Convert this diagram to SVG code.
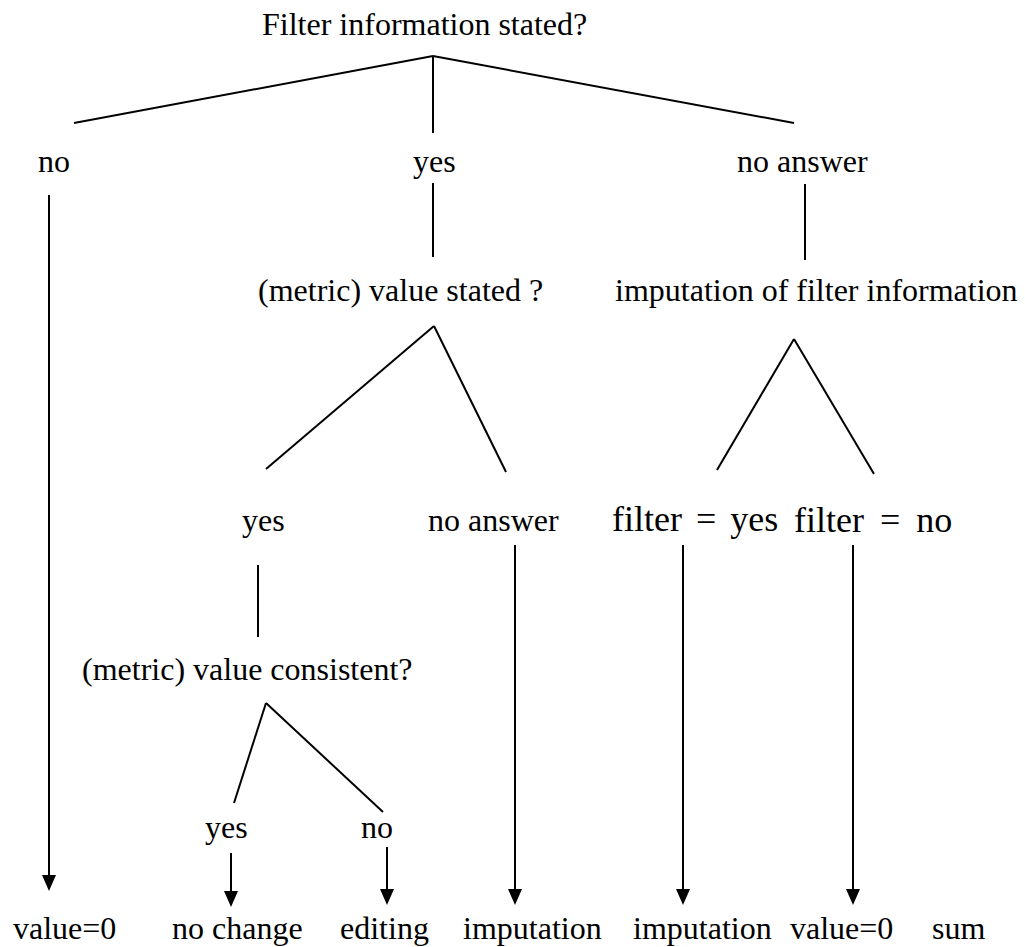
<svg xmlns="http://www.w3.org/2000/svg" width="1025" height="947" viewBox="0 0 1025 947">
<style>
text{font-family:"Liberation Serif","Times New Roman",serif;font-size:32px;fill:#000}
.l{stroke:#000;stroke-width:2;fill:none}
.a{stroke:#000;stroke-width:2;fill:none;marker-end:url(#ah)}
.f{font-size:36px;word-spacing:5px}
</style>
<defs>
<marker id="ah" viewBox="0 0 16 14" refX="12" refY="7" markerWidth="16" markerHeight="14" markerUnits="userSpaceOnUse" orient="auto">
<path d="M0,0 L16,7 L0,14 z" fill="#000"/>
</marker>
</defs>
<rect width="1025" height="947" fill="#fff"/>
<g id="connectors">
<line class="l" x1="433" y1="56" x2="74" y2="123"/>
<line class="l" x1="433" y1="56" x2="433" y2="133"/>
<line class="l" x1="433" y1="56" x2="794" y2="123"/>
<line class="l" x1="433" y1="183" x2="433" y2="257"/>
<line class="l" x1="805" y1="184" x2="805" y2="260"/>
<line class="l" x1="434" y1="326" x2="266" y2="469"/>
<line class="l" x1="434" y1="326" x2="506" y2="472"/>
<line class="l" x1="794" y1="339" x2="717" y2="470"/>
<line class="l" x1="794" y1="339" x2="874" y2="474"/>
<line class="l" x1="258" y1="565" x2="258" y2="637"/>
<line class="l" x1="266" y1="703" x2="234" y2="803"/>
<line class="l" x1="266" y1="703" x2="383" y2="812"/>
<line class="a" x1="49" y1="195" x2="49" y2="887"/>
<line class="a" x1="231" y1="853" x2="231" y2="903"/>
<line class="a" x1="387" y1="847" x2="387" y2="901"/>
<line class="a" x1="515" y1="545" x2="515" y2="901"/>
<line class="a" x1="683" y1="545" x2="683" y2="901"/>
<line class="a" x1="853" y1="545" x2="853" y2="901"/>
</g>
<g id="n-root"><text x="262" y="35">Filter information stated?</text></g>
<g id="n-no"><text x="38" y="172">no</text></g>
<g id="n-yes"><text x="413" y="172">yes</text></g>
<g id="n-noanswer"><text x="737" y="172">no answer</text></g>
<g id="n-valuestated"><text x="258" y="301">(metric) value stated ?</text></g>
<g id="n-imputefilter"><text x="615" y="301">imputation of filter information</text></g>
<g id="n-yes2"><text x="242" y="531">yes</text></g>
<g id="n-noanswer2"><text x="428" y="531">no answer</text></g>
<g id="n-filteryes"><text class="f" x="612" y="531">filter = yes</text></g>
<g id="n-filterno"><text class="f" x="794" y="532" style="word-spacing:7px">filter = no</text></g>
<g id="n-consistent"><text x="82" y="680">(metric) value consistent?</text></g>
<g id="n-yes3"><text x="205" y="838">yes</text></g>
<g id="n-no3"><text x="361" y="838">no</text></g>
<g id="n-value0a"><text x="13" y="939">value=0</text></g>
<g id="n-nochange"><text x="172" y="939">no change</text></g>
<g id="n-editing"><text x="340" y="939">editing</text></g>
<g id="n-imp1"><text x="463" y="939">imputation</text></g>
<g id="n-imp2"><text x="633" y="939">imputation</text></g>
<g id="n-value0b"><text x="790" y="939">value=0</text></g>
<g id="n-sum"><text x="932" y="939">sum</text></g>
</svg>
